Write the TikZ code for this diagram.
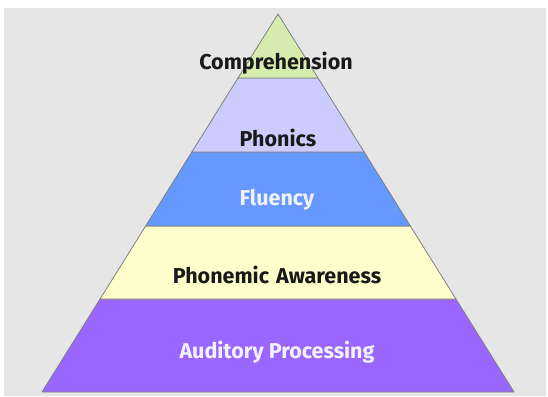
\documentclass[tikz,border=0pt]{standalone}
\usepackage{fontspec}
\setmainfont{Fira Sans}
\definecolor{bgc}{HTML}{E6E6E6}
\definecolor{lgreen}{HTML}{D6EBAE}
\definecolor{lav}{HTML}{CCCCFF}
\definecolor{blu}{HTML}{6699FF}
\definecolor{lyel}{HTML}{FFFFCC}
\definecolor{purp}{HTML}{9966FF}
\definecolor{edge}{HTML}{7F8080}
\begin{document}
\begin{tikzpicture}[x=1pt,y=-1pt,
  layer/.style={draw=edge,line width=0.8pt,line join=round},
  lbl/.style={font=\fontsize{21.5}{24}\selectfont\bfseries,inner sep=0pt}]
\useasboundingbox (0,0) rectangle (548,396);
\fill[white] (0,0) rectangle (548,396);
\fill[bgc] (4,8) rectangle (546,396);
\coordinate (apex) at (278,14);
\coordinate (l1) at (238.0,78);   \coordinate (r1) at (318.0,78);
\coordinate (l2) at (191.85,152); \coordinate (r2) at (364.15,152);
\coordinate (l3) at (145.65,226); \coordinate (r3) at (410.35,226);
\coordinate (l4) at (100.07,299); \coordinate (r4) at (455.93,299);
\coordinate (l5) at (42,392);     \coordinate (r5) at (514,392);
\filldraw[layer,fill=purp] (l4) -- (r4) -- (r5) -- (l5) -- cycle;
\filldraw[layer,fill=lyel] (l3) -- (r3) -- (r4) -- (l4) -- cycle;
\filldraw[layer,fill=blu] (l2) -- (r2) -- (r3) -- (l3) -- cycle;
\filldraw[layer,fill=lav] (l1) -- (r1) -- (r2) -- (l2) -- cycle;
\filldraw[layer,fill=lgreen] (apex) -- (r1) -- (l1) -- cycle;
\node[lbl,text=black!90] (comp) at (276,63) {Comprehension};
\node[lbl,text=black!90] (phon) at (278,138) {Phonics};
\node[lbl,text=white!95!blue] (flu) at (277,200) {Fluency};
\node[lbl,text=black!90] (pa) at (277,275) {Phonemic\,\,Awareness};
\node[lbl,text=white!95!blue] (ap) at (277,352) {Auditory Processing};
\end{tikzpicture}
\end{document}
